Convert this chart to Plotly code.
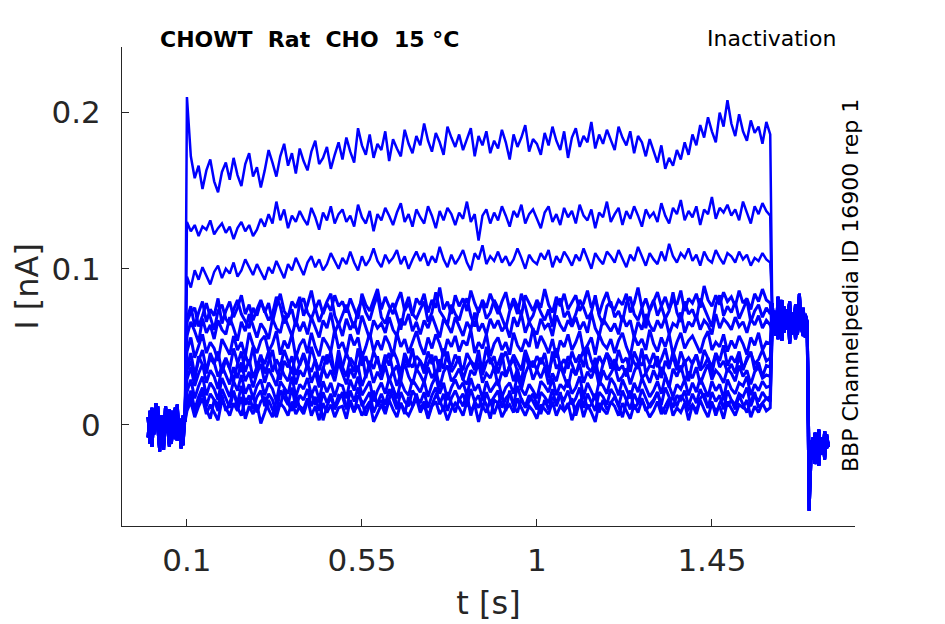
import numpy as np
import plotly.graph_objects as go

# time grids [s]
t_base = np.round(np.arange(0.0, 0.0951, 0.005), 3)
t_step = np.round(np.arange(0.1, 1.6001, 0.01), 3)
t_test = np.round(np.arange(1.605, 1.6951, 0.005), 3)
t_end = np.round(np.arange(1.7, 1.7501, 0.005), 3)

# currents, in pA (converted to nA below)
base_a = [-8, 9, -14, 4, -3, 12, -11, 2, -16, 7, -5, 10, -12, 3, -9, 13, -6, 1, -13, 8]
base_b = [5, -12, 11, -6, 14, -2, -17, 6, -9, 12, -4, -14, 9, -1, 11, -10, 4, -15, 6, 2]

tail_a = [78, 62, 71, 55, 68, 80, 59, 66, 74, 52, 70, 63, 77, 58, 69, 61, 75, 56, 64]
tail_b = [60, 73, 57, 82, 64, 54, 76, 61, 69, 79, 58, 72, 55, 67, 84, 62, 57, 71, 66]

end_a = [-55, -20, -8, -25, -12, -3, -18, -9, -22, -6, -14]
end_b = [-30, -10, -22, -5, -17, -26, -8, -19, -4, -15, -11]

# prepulse plateaus, one list per sweep (0.10 s .. 1.60 s)
step_1 = [210, 172, 158, 166, 151, 163, 170, 156, 149, 162,
          168, 157, 171, 160, 153, 167, 174, 159, 165, 152,
          163, 176, 168, 159, 172, 180, 166, 174, 161, 177,
          169, 163, 175, 182, 167, 171, 178, 164, 173, 181,
          170, 184, 175, 168, 190, 179, 173, 186, 171, 180,
          176, 188, 169, 183, 177, 172, 189, 180, 174, 185,
          179, 193, 182, 175, 187, 181, 173, 191, 184, 178,
          186, 176, 183, 190, 172, 185, 179, 188, 174, 182,
          177, 189, 181, 170, 186, 178, 184, 192, 175, 183,
          180, 173, 187, 179, 191, 182, 176, 188, 171, 184,
          190, 178, 185, 181, 194, 177, 186, 180, 189, 183,
          176, 191, 184, 179, 188, 174, 185, 181, 172, 183,
          175, 168, 179, 164, 171, 166, 176, 170, 181, 173,
          186, 179, 192, 184, 197, 188, 181, 200, 191, 208,
          193, 185, 199, 188, 182, 195, 187, 191, 180, 194,
          186]
step_2 = [130, 124, 128, 121, 127, 125, 131, 122, 126, 129,
          123, 127, 119, 126, 130, 124, 128, 121, 125, 132,
          127, 135, 129, 143, 131, 138, 126, 134, 130, 137,
          132, 128, 139, 133, 125, 136, 131, 140, 129, 135,
          138, 130, 134, 127, 141, 133, 129, 137, 124, 135,
          131, 139, 134, 128, 136, 142, 130, 135, 127, 138,
          133, 129, 140, 134, 126, 137, 131, 139, 135, 128,
          136, 132, 143, 130, 135, 118, 134, 138, 129, 136,
          131, 140, 134, 127, 137, 133, 141, 129, 135, 138,
          132, 126, 136, 140, 130, 135, 128, 139, 133, 137,
          129, 141, 134, 131, 138, 126, 136, 133, 143, 130,
          135, 139, 128, 137, 132, 140, 134, 127, 138, 133,
          136, 130, 142, 134, 129, 139, 135, 144, 131, 137,
          133, 140, 128, 138, 135, 146, 132, 139, 136, 141,
          134, 138, 131, 143, 136, 129, 140, 135, 142, 137,
          134]
step_3 = [95, 88, 99, 93, 101, 96, 90, 98, 102, 94,
          100, 97, 104, 95, 99, 106, 101, 96, 103, 98,
          93, 101, 97, 105, 100, 94, 103, 99, 107, 102,
          96, 104, 108, 101, 106, 99, 103, 110, 105, 100,
          107, 103, 111, 104, 99, 108, 102, 106, 113, 105,
          101, 109, 104, 107, 112, 103, 108, 100, 106, 111,
          105, 110, 102, 108, 104, 114, 106, 101, 109, 103,
          107, 112, 104, 99, 110, 106, 115, 103, 108, 105,
          111, 104, 108, 102, 106, 113, 107, 100, 109, 105,
          103, 110, 106, 112, 101, 108, 104, 111, 107, 102,
          109, 105, 113, 107, 100, 110, 106, 103, 111, 108,
          104, 112, 107, 101, 109, 105, 114, 108, 102, 110,
          106, 103, 111, 105, 116, 108, 104, 110, 107, 113,
          105, 109, 102, 111, 106, 104, 112, 107, 103, 110,
          108, 104, 111, 106, 109, 102, 107, 105, 110, 106,
          104]
step_4 = [68, 76, 63, 72, 79, 66, 74, 70, 81, 65,
          73, 79, 69, 75, 83, 71, 77, 67, 74, 80,
          72, 78, 66, 76, 84, 73, 69, 79, 75, 82,
          70, 77, 86, 74, 80, 71, 78, 73, 83, 76,
          79, 72, 81, 75, 68, 84, 77, 73, 80, 87,
          74, 82, 76, 71, 79, 85, 73, 78, 70, 81,
          77, 84, 72, 80, 75, 88, 74, 79, 71, 83,
          76, 81, 73, 86, 78, 72, 80, 75, 84, 77,
          71, 79, 85, 74, 81, 76, 70, 83, 78, 73,
          80, 75, 87, 77, 72, 82, 76, 84, 74, 79,
          83, 73, 78, 86, 75, 81, 71, 79, 85, 76,
          74, 80, 77, 84, 72, 78, 88, 75, 81, 73,
          79, 85, 76, 82, 74, 80, 77, 86, 73, 81,
          78, 84, 75, 89, 80, 76, 83, 77, 85, 79,
          82, 76, 86, 78, 81, 74, 84, 79, 87, 80,
          78]
step_5 = [57, 66, 60, 53, 68, 59, 64, 55, 67, 61,
          58, 69, 62, 54, 66, 60, 71, 63, 56, 65,
          61, 55, 68, 62, 59, 70, 64, 57, 67, 60,
          66, 58, 69, 63, 56, 67, 62, 72, 59, 65,
          57, 68, 61, 66, 58, 70, 63, 55, 67, 62,
          65, 59, 69, 61, 57, 68, 64, 71, 60, 66,
          58, 67, 62, 70, 63, 56, 68, 64, 59, 69,
          63, 57, 66, 61, 72, 60, 65, 58, 68, 62,
          67, 60, 64, 56, 69, 63, 71, 59, 66, 61,
          58, 68, 62, 65, 57, 70, 64, 60, 67, 63,
          69, 61, 66, 59, 72, 62, 57, 68, 64, 60,
          65, 58, 70, 63, 67, 56, 66, 61, 71, 64,
          60, 67, 62, 69, 58, 65, 63, 72, 59, 66,
          63, 70, 61, 67, 64, 58, 71, 62, 68, 65,
          61, 69, 63, 66, 59, 68, 64, 70, 62, 67,
          64]
step_6 = [47, 56, 43, 51, 58, 46, 53, 49, 41, 55,
          50, 45, 57, 48, 53, 44, 59, 51, 46, 54,
          57, 47, 52, 60, 45, 54, 49, 58, 43, 51,
          55, 46, 59, 50, 44, 56, 52, 47, 61, 49,
          53, 45, 58, 51, 56, 43, 50, 59, 47, 54,
          48, 57, 52, 44, 59, 50, 55, 46, 53, 60,
          51, 45, 56, 49, 58, 52, 44, 55, 50, 57,
          47, 54, 51, 61, 46, 53, 49, 58, 44, 52,
          56, 48, 53, 45, 59, 51, 47, 55, 50, 62,
          49, 57, 52, 46, 55, 43, 54, 50, 58, 48,
          53, 60, 47, 51, 56, 45, 58, 52, 49, 55,
          46, 54, 59, 50, 44, 57, 51, 55, 48, 61,
          52, 47, 56, 50, 58, 45, 53, 59, 49, 54,
          57, 51, 46, 55, 60, 48, 53, 50, 58, 47,
          54, 49, 57, 52, 45, 56, 51, 59, 48, 53,
          52]
step_7 = [37, 46, 32, 41, 48, 35, 43, 39, 47, 33,
          42, 36, 49, 40, 34, 45, 38, 50, 35, 44,
          39, 47, 34, 42, 37, 48, 41, 33, 46, 38,
          45, 36, 50, 41, 35, 44, 39, 47, 32, 43,
          37, 46, 40, 34, 49, 38, 44, 36, 47, 41,
          35, 45, 38, 48, 42, 33, 46, 40, 37, 44,
          41, 36, 47, 39, 44, 34, 49, 42, 37, 45,
          40, 35, 46, 41, 38, 43, 36, 50, 39, 44,
          33, 42, 47, 38, 45, 40, 35, 48, 41, 37,
          44, 39, 46, 34, 43, 49, 38, 42, 36, 47,
          40, 45, 37, 50, 41, 35, 44, 39, 46, 42,
          36, 48, 40, 43, 34, 47, 41, 38, 45, 39,
          46, 37, 42, 49, 38, 44, 35, 47, 40, 43,
          39, 45, 36, 48, 42, 37, 46, 41, 51, 38,
          44, 40, 47, 35, 43, 46, 39, 42, 48, 41,
          43]
step_8 = [29, 37, 25, 33, 39, 27, 35, 31, 23, 38,
          32, 26, 37, 30, 40, 28, 34, 24, 33, 39,
          27, 36, 31, 25, 38, 32, 28, 37, 26, 35,
          31, 39, 27, 34, 24, 37, 30, 35, 28, 40,
          33, 26, 36, 30, 38, 25, 32, 37, 27, 34,
          29, 38, 28, 35, 25, 33, 39, 31, 26, 36,
          32, 27, 37, 30, 35, 24, 34, 38, 28, 31,
          36, 29, 26, 35, 32, 40, 27, 33, 30, 37,
          25, 34, 31, 38, 28, 36, 23, 33, 39, 29,
          35, 30, 37, 26, 33, 28, 38, 31, 24, 36,
          32, 39, 27, 34, 30, 37, 25, 35, 29, 33,
          38, 28, 31, 36, 26, 34, 40, 30, 33, 27,
          35, 29, 37, 32, 24, 36, 31, 38, 28, 34,
          30, 37, 26, 33, 39, 29, 35, 32, 27, 36,
          33, 28, 38, 31, 35, 26, 34, 37, 30, 32,
          31]
step_9 = [21, 29, 17, 25, 31, 19, 27, 23, 16, 30,
          24, 18, 28, 22, 32, 20, 26, 17, 25, 29,
          19, 27, 23, 15, 28, 24, 20, 31, 18, 26,
          23, 30, 19, 25, 16, 28, 21, 27, 18, 26,
          25, 17, 29, 22, 31, 19, 24, 28, 15, 22,
          27, 20, 30, 24, 17, 28, 22, 19, 29, 25,
          21, 28, 18, 26, 31, 20, 27, 16, 24, 29,
          23, 27, 19, 30, 22, 26, 17, 28, 21, 25,
          29, 18, 24, 27, 20, 32, 23, 19, 26, 22,
          17, 28, 25, 21, 30, 19, 26, 23, 29, 20,
          24, 31, 18, 27, 22, 16, 28, 25, 20, 30,
          26, 19, 29, 23, 17, 27, 21, 30, 24, 18,
          22, 28, 20, 31, 25, 18, 26, 23, 29, 19,
          27, 21, 30, 24, 18, 28, 22, 26, 17, 29,
          23, 20, 27, 25, 31, 19, 26, 22, 28, 24,
          25]
step_10 = [14, 22, 10, 18, 24, 12, 20, 16, 9, 23,
           17, 11, 21, 14, 25, 13, 19, 10, 18, 22,
           12, 20, 16, 8, 22, 17, 13, 24, 11, 19,
           16, 23, 12, 18, 9, 21, 14, 20, 11, 19,
           18, 10, 22, 15, 24, 12, 17, 21, 8, 14,
           20, 13, 23, 17, 10, 21, 15, 12, 22, 18,
           14, 21, 11, 19, 24, 13, 20, 9, 17, 22,
           16, 20, 12, 23, 15, 19, 10, 21, 14, 18,
           22, 11, 17, 20, 13, 25, 16, 12, 19, 15,
           10, 21, 18, 14, 23, 12, 19, 16, 22, 13,
           17, 24, 11, 20, 15, 9, 21, 18, 13, 23,
           19, 12, 22, 16, 10, 20, 14, 23, 17, 11,
           15, 21, 13, 24, 18, 11, 19, 16, 22, 12,
           20, 14, 23, 17, 11, 21, 15, 19, 10, 22,
           16, 13, 20, 18, 24, 12, 19, 15, 21, 17,
           18]
step_11 = [9, 15, 5, 12, 17, 7, 13, 8, 3, 16,
           11, 6, 14, 9, 18, 4, 12, 7, 13, 1,
           8, 16, 10, 5, 14, 11, 6, 15, 7, 12,
           10, 17, 6, 12, 3, 14, 8, 13, 5, 11,
           12, 4, 16, 9, 13, 6, 11, 15, 2, 8,
           13, 7, 16, 10, 5, 14, 9, 6, 12, 17,
           8, 13, 4, 12, 15, 7, 11, 3, 10, 14,
           11, 6, 15, 9, 13, 2, 12, 8, 16, 7,
           14, 5, 10, 13, 8, 17, 11, 6, 12, 9,
           4, 13, 10, 7, 15, 6, 12, 9, 14, 3,
           11, 16, 5, 13, 8, 2, 14, 10, 7, 15,
           12, 6, 14, 9, 4, 13, 8, 16, 10, 5,
           9, 15, 7, 12, 17, 6, 11, 8, 14, 3,
           13, 7, 16, 10, 5, 14, 9, 12, 4, 15,
           10, 6, 13, 11, 16, 5, 12, 8, 14, 9,
           11]
step_12 = [66, 72, 75, 63, 70, 78, 69, 61, 73, 77,
           68, 64, 74, 80, 71, 66, 62, 75, 70, 79,
           73, 67, 71, 82, 76, 65, 70, 74, 63, 78,
           81, 72, 68, 75, 66, 73, 79, 84, 70, 64,
           71, 77, 69, 62, 74, 80, 72, 67, 76, 83,
           69, 65, 73, 78, 70, 61, 75, 82, 71, 68,
           74, 79, 66, 72, 85, 73, 69, 64, 77, 71,
           67, 76, 81, 70, 63, 74, 78, 68, 72, 80,
           75, 69, 62, 73, 79, 71, 84, 76, 66, 70,
           78, 72, 67, 74, 63, 77, 81, 69, 73, 65,
           71, 80, 75, 68, 72, 83, 70, 64, 76, 79,
           69, 73, 66, 78, 82, 71, 67, 75, 62, 74,
           80, 70, 76, 68, 73, 85, 72, 66, 79, 71,
           74, 67, 81, 75, 69, 63, 77, 83, 70, 76,
           72, 79, 68, 74, 80, 66, 73, 77, 69, 75,
           71]
step_13 = [35, 41, 29, 44, 38, 33, 46, 40, 31, 37,
           43, 36, 28, 39, 47, 34, 42, 30, 38, 45,
           33, 40, 48, 35, 29, 41, 37, 44, 32, 39,
           46, 38, 34, 42, 27, 36, 45, 40, 33, 48,
           37, 31, 43, 39, 35, 47, 30, 41, 36, 44,
           32, 40, 46, 34, 38, 28, 43, 37, 49, 35,
           41, 33, 39, 45, 30, 42, 36, 47, 34, 38,
           44, 29, 37, 41, 35, 48, 32, 40, 43, 36,
           39, 46, 31, 38, 42, 34, 27, 45, 37, 41,
           35, 43, 38, 30, 47, 36, 40, 33, 44, 39,
           32, 41, 48, 37, 34, 43, 29, 39, 46, 36,
           42, 35, 38, 31, 45, 40, 36, 49, 33, 38,
           37, 44, 30, 41, 36, 47, 39, 34, 42, 28,
           40, 45, 35, 38, 43, 32, 46, 37, 41, 34,
           39, 33, 44, 36, 42, 47, 35, 40, 31, 38,
           37]
step_14 = [12, 18, 7, 15, 21, 10, 4, 16, 13, 19,
           9, 14, 22, 11, 6, 17, 13, 20, 8, 15,
           18, 10, 5, 16, 12, 23, 14, 9, 19, 11,
           7, 15, 20, 13, 17, 3, 12, 18, 10, 16,
           21, 11, 14, 8, 19, 15, 6, 13, 22, 12,
           16, 9, 17, 24, 11, 14, 7, 18, 12, 20,
           10, 15, 5, 13, 19, 16, 9, 21, 14, 8,
           17, 12, 20, 6, 15, 11, 18, 13, 4, 16,
           14, 19, 9, 22, 12, 8, 17, 11, 15, 20,
           13, 7, 16, 10, 18, 14, 21, 9, 12, 17,
           6, 15, 19, 11, 13, 20, 8, 16, 10, 14,
           18, 12, 5, 15, 22, 10, 14, 17, 9, 13,
           16, 21, 11, 7, 14, 18, 12, 19, 15, 10,
           13, 9, 17, 20, 11, 15, 6, 14, 18, 12,
           16, 10, 19, 13, 8, 15, 21, 11, 14, 17,
           15]

steps = [step_1, step_2, step_3, step_4, step_12, step_5, step_6,
         step_7, step_13, step_8, step_9, step_10, step_14, step_11]

x_ticks = [0.1, 0.55, 1, 1.45]
x_ticktext = ["0.1", "0.55", "1", "1.45"]
y_ticks = [0, 0.1, 0.2]
y_ticktext = ["0", "0.1", "0.2"]

ink = "#262626"
font = "DejaVu Sans"

# plot area in pixels (left, right, top, bottom)
L, R, T, B = 122, 855, 47, 526


def px(x, y):
    return (x - L) / (R - L), (B - y) / (B - T)


fig = go.Figure()
t_all = np.concatenate([t_base, t_step, t_test, t_end])
for i, s in enumerate(steps):
    if i % 2 == 0:
        y = base_a + s + tail_a + end_a
    else:
        y = base_b + s + tail_b + end_b
    lw = 2.5 if i < 3 else 3
    fig.add_trace(go.Scatter(x=t_all, y=np.array(y) / 1000.0, mode="lines",
                             line=dict(color="#0000ff", width=lw),
                             showlegend=False, hoverinfo="skip"))

fig.update_layout(
    width=945, height=624,
    margin=dict(l=L, r=945 - R, t=T, b=624 - B),
    paper_bgcolor="white", plot_bgcolor="white",
    font=dict(family=font, color=ink),
)
fig.update_xaxes(range=[-0.067, 1.818], tickvals=x_ticks, ticktext=x_ticktext,
                 showgrid=False, zeroline=False, showline=True, linecolor=ink, linewidth=1,
                 ticks="inside", ticklen=7, tickcolor=ink, tickfont=dict(size=31, color=ink),
                 ticklabelstandoff=7, automargin=False,
                 title=dict(text="t [s]", font=dict(size=32, color=ink), standoff=14))
fig.update_yaxes(range=[-0.0647, 0.242], tickvals=y_ticks, ticktext=y_ticktext,
                 showgrid=False, zeroline=False, showline=True, linecolor=ink, linewidth=1,
                 ticks="inside", ticklen=7, tickcolor=ink, tickfont=dict(size=31, color=ink),
                 ticklabelstandoff=14, automargin=False,
                 title=dict(text="I [nA]", font=dict(size=32, color=ink), standoff=3))

x0, y0 = px(158, 40)
fig.add_annotation(x=x0, y=y0, xref="paper", yref="paper", xanchor="left", yanchor="middle",
                   text="<b>CHOWT\u00a0\u00a0Rat\u00a0\u00a0CHO\u00a0\u00a015\u00a0°C</b>",
                   showarrow=False, font=dict(size=22, color="black"))
x0, y0 = px(838, 39)
fig.add_annotation(x=x0, y=y0, xref="paper", yref="paper", xanchor="right", yanchor="middle",
                   text="Inactivation", showarrow=False, font=dict(size=22, color="black"))
x0, y0 = px(850, 286)
fig.add_annotation(x=x0, y=y0, xref="paper", yref="paper", xanchor="center", yanchor="middle",
                   text="BBP Channelpedia ID 16900 rep 1", textangle=-90,
                   showarrow=False, font=dict(size=22, color="black"))

fig.write_html("out.html", config={"displayModeBar": False},
               post_script="document.body.style.margin='0';")
